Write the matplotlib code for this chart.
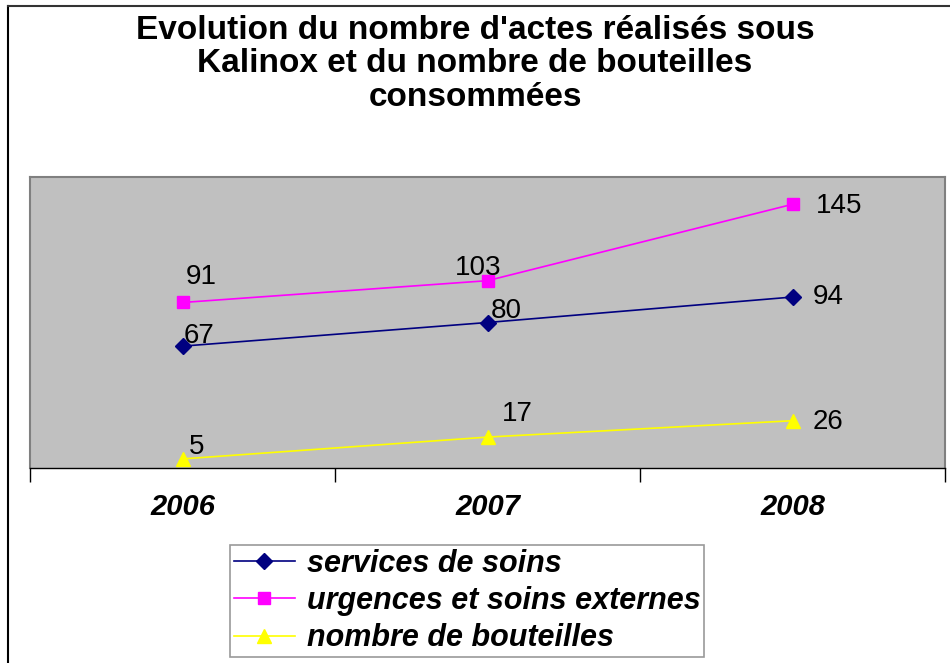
import matplotlib.pyplot as plt
from matplotlib.lines import Line2D

plt.rcParams['font.family'] = ['Liberation Sans', 'DejaVu Sans']

# Data
years = ['2006', '2007', '2008']
services_soins = [67, 80, 94]
urgences = [91, 103, 145]
bouteilles = [5, 17, 26]
series_names = ['services de soins', 'urgences et soins externes', 'nombre de bouteilles']

# label offsets in pixels (dx, dy) for each point
off_services = [(1, 10), (3, 11), (20, 0)]
off_urgences = [(3, 25), (-33, 13), (23, -2)]
off_bouteilles = [(6, 12), (14, 23), (20, -1)]

fig = plt.figure(figsize=(9.5, 6.63), dpi=100)
ax = fig.add_axes([30 / 950, 1 - 468 / 663, 915 / 950, 291 / 663])
ax.set_facecolor('#C0C0C0')

x = list(range(len(years)))
styles = [
    (services_soins, '#000080', 'D', 8, off_services),
    (urgences, '#FF00FF', 's', 8, off_urgences),
    (bouteilles, '#FFFF00', '^', 10, off_bouteilles),
]
for (vals, col, mk, ms, offs), name in zip(styles, series_names):
    ax.plot(x, vals, color=col, marker=mk, markersize=ms, linewidth=1.2,
            markeredgecolor=col, label=name)
    for xi, v, (dx, dy) in zip(x, vals, offs):
        ax.annotate(str(v), (xi, v), xytext=(dx, dy), textcoords='offset pixels',
                    ha='left', va='center', fontsize=20)

ax.set_xlim(-0.5, 2.5)
ax.set_ylim(0, 160)
ax.set_yticks([])
ax.set_xticks(x)
ax.set_xticklabels(years, fontsize=21, fontweight='bold', fontstyle='italic')
ax.tick_params(axis='x', which='major', length=0, pad=18)
ax.set_xticks([-0.5, 0.5, 1.5, 2.5], minor=True)
ax.tick_params(axis='x', which='minor', length=10, width=1, direction='out')
for side in ['top', 'left', 'right']:
    ax.spines[side].set_color('#808080')
    ax.spines[side].set_linewidth(1.5)
ax.spines['bottom'].set_color('black')
ax.spines['bottom'].set_linewidth(1)

fig.text(0.5, 1 - 64 / 663,
         "Evolution du nombre d'actes réalisés sous\nKalinox et du nombre de bouteilles\nconsommées",
         ha='center', va='center', fontsize=24, fontweight='bold', linespacing=1.1)

leg = fig.legend(loc='upper left', bbox_to_anchor=(230 / 950, 1 - 545 / 663),
                 frameon=True, fancybox=False,
                 prop={'weight': 'bold', 'style': 'italic', 'size': 22},
                 handlelength=2.0, handletextpad=0.4, labelspacing=0.24,
                 borderpad=0.12, borderaxespad=0)
leg.get_frame().set_edgecolor('#808080')
leg.get_frame().set_linewidth(1.2)

# figure border (left and top)
fig.add_artist(Line2D([8 / 950, 8 / 950], [0, 1 - 6 / 663], color='black', linewidth=1.5))
fig.add_artist(Line2D([8 / 950, 1], [1 - 6 / 663, 1 - 6 / 663], color='#333333', linewidth=1.5))

fig.savefig('out.png', dpi=100)
